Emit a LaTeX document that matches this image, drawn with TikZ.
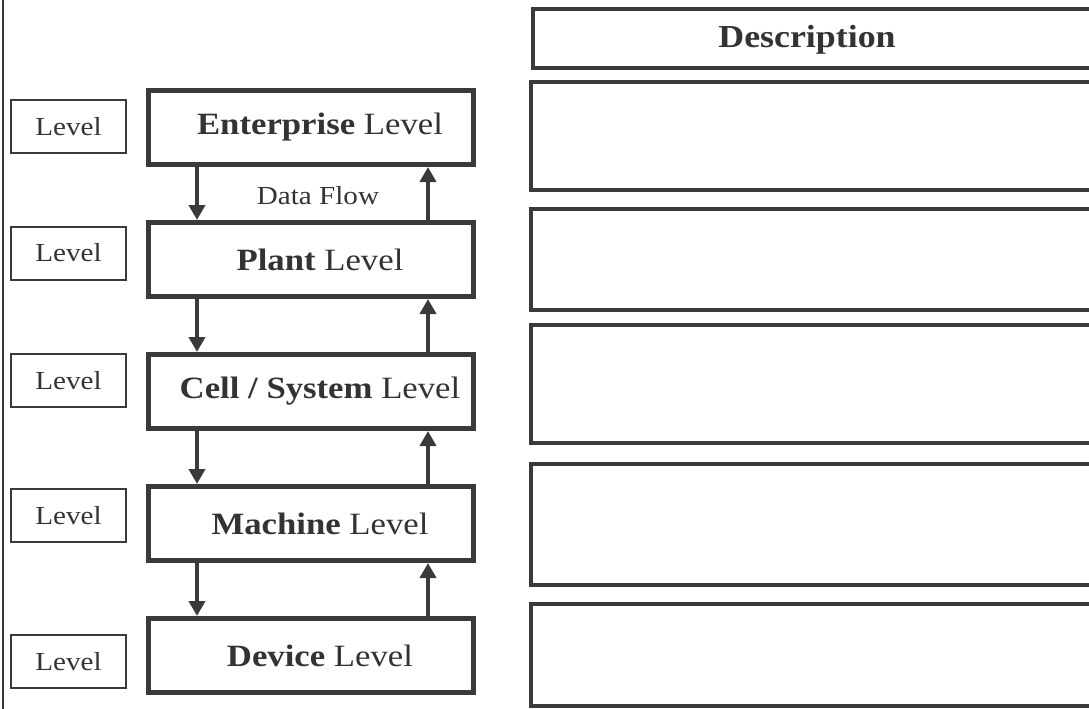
\documentclass[tikz,border=0pt]{standalone}
\usepackage{fontspec}
\setmainfont[FakeStretch=1.12]{Liberation Serif}
\usepackage{xcolor}
\definecolor{darkgray}{HTML}{3A3A3A}
\definecolor{textgray}{HTML}{333333}
\usetikzlibrary{positioning,arrows.meta}

\begin{document}
\begin{tikzpicture}[x=1pt, y=-1pt, node distance = 53pt,
    levelbox/.style={
        rectangle, line width = 5pt, draw = darkgray, fill = white,
        minimum width = 325pt, minimum height = 74pt, text = textgray,
        font = \fontsize{31}{36}\selectfont,
        execute at begin node = {\hspace*{18pt}}},
    tagbox/.style={
        rectangle, line width = 2pt, draw = darkgray, fill = white,
        minimum width = 115pt, minimum height = 53pt, text = textgray,
        font = \fontsize{26}{30}\selectfont},
    descbox/.style={
        rectangle, line width = 4pt, draw = darkgray, fill = white,
        minimum width = 580pt, anchor = west},
    flow/.style={
        line width = 4pt, draw = darkgray,
        -{Triangle[width=16pt,length=15pt]}}]
    \useasboundingbox (0,0) rectangle (1089,709);
    \clip (0,0) rectangle (1089,709);
    \draw[line width = 1.5pt, darkgray] (3,0) -- (3,709);
    % levels
    \node (ent) [levelbox] at (311,127.5) {\textbf{Enterprise} Level};
    \node (plant) [levelbox, below=of ent] {\textbf{Plant} Level};
    \node (cell) [levelbox, below=of plant] {\textbf{Cell / System} Level};
    \node (mach) [levelbox, below=of cell] {\textbf{Machine} Level};
    \node (dev) [levelbox, below=of mach] {\textbf{Device} Level};
    \node (tagA) [tagbox] at (68.5,126.5) {Level};
    \node (tagB) [tagbox] at (68.5,253) {Level};
    \node (tagC) [tagbox] at (68.5,380.5) {Level};
    \node (tagD) [tagbox] at (68.5,515.5) {Level};
    \node (tagE) [tagbox] at (68.5,661.5) {Level};
    % data flow
    \foreach \a/\b in {ent/plant, plant/cell, cell/mach, mach/dev} {
        \draw[flow] ([xshift=-114pt]\a.south) -- ([xshift=-114pt]\b.north);
        \draw[flow] ([xshift=117pt]\b.north) -- ([xshift=117pt]\a.south);
    }
    \node (flowtxt) [text = textgray, font = \fontsize{26}{30}\selectfont] at (318,196) {Data Flow};
    % descriptions
    \node (head) [descbox, minimum height = 59pt] at (531,38.5) {};
    \node (headtxt) [text = textgray, font = \fontsize{32}{38}\selectfont\bfseries] at (807,40) {Description};
    \node (descA) [descbox, minimum height = 108pt] at (529,136) {};
    \node (descB) [descbox, minimum height = 101pt] at (529,259.5) {};
    \node (descC) [descbox, minimum height = 118pt] at (529,384) {};
    \node (descD) [descbox, minimum height = 121pt] at (529,524.5) {};
    \node (descE) [descbox, minimum height = 102pt] at (529,655) {};
\end{tikzpicture}
\end{document}
